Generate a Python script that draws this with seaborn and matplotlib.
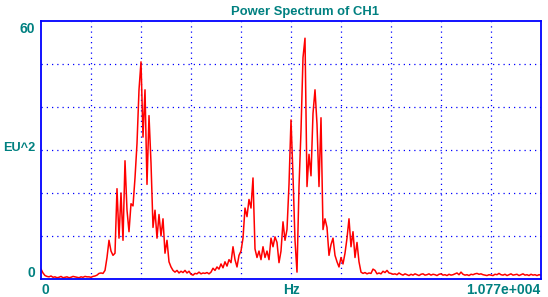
import numpy as np
import pandas as pd
import matplotlib
matplotlib.use("Agg")
import matplotlib.pyplot as plt
import seaborn as sns

# ---- data (EU^2 per frequency bin, 0 .. 10770 Hz) ----
power_low = [2.3, 1.4, 0.8,
             0.6, 0.5, 0.7, 0.4, 0.5, 0.3, 0.4, 0.6, 0.3, 0.4, 0.5, 0.3, 0.4, 0.6, 0.5, 0.4, 0.3, 0.5, 0.4, 0.6, 0.5,
             0.5, 0.4, 0.6, 0.7, 0.9, 1.3, 1.4, 1.3, 2.0, 5.0, 9.0, 6.5, 5.5, 6.0]
power_band1 = [21.0, 9.5, 20.0, 9.0, 27.5, 16.0, 11.0, 17.5, 17.0,
               23.5, 31.5, 44.0, 50.5, 33.0, 44.0, 22.0, 38.0, 27.0, 12.0, 16.0, 9.5, 15.0, 10.0, 14.0,
               6.0, 9.0, 4.0, 2.8, 2.0, 1.6, 2.0, 1.4, 1.8, 1.5, 2.0, 1.4, 1.8, 1.1, 0.9, 1.3,
               1.2, 1.6, 1.2, 1.4, 1.3, 1.5, 1.2, 1.6, 2.5, 2.0, 2.8, 2.3, 3.5, 2.6, 4.0, 3.0, 4.5, 3.8, 7.5]
power_band2 = [4.5, 2.8, 5.5, 6.5, 9.5, 16.5, 14.5, 18.5, 16.5, 23.5,
               7.0, 5.0, 6.5, 4.5, 7.5, 5.0, 6.5, 4.5, 9.5, 7.5,
               9.8, 8.5, 3.8, 6.5, 13.3, 9.0, 11.5, 22.0, 37.0, 24.0,
               9.0, 1.6, 21.5, 34.5, 51.5, 56.0, 21.5, 29.0, 24.0, 38.5,
               44.0, 36.0, 21.5, 37.5, 11.5, 14.0, 12.0, 5.5, 8.0, 9.5,
               5.5, 4.0, 2.8, 5.0, 3.5, 6.0, 9.5, 14.0, 7.5, 11.0,
               5.0, 8.5, 4.0, 1.6, 1.3, 1.5, 1.2, 1.4, 1.3, 2.3,
               2.0, 1.2, 1.4, 1.2, 1.8, 1.5, 2.0, 1.4]
power_high = [1.3, 1.1, 1.2, 1.0, 1.4, 1.1, 0.9, 1.2, 1.0, 0.8,
              1.1, 0.9, 1.2, 1.0, 0.8, 1.1, 1.2, 0.9, 1.0, 1.2,
              0.9, 1.1, 1.0, 0.8, 1.1, 1.2, 0.9, 1.0, 0.8, 1.1,
              0.9, 1.0, 1.2, 1.4, 1.0, 1.6, 1.1, 0.9, 1.0, 0.8,
              1.1, 1.0, 1.2, 1.3, 1.1, 1.2, 1.0, 0.9, 0.8, 1.0,
              0.9, 0.8, 1.1, 1.0, 1.3, 1.0, 0.9, 1.1, 0.8, 1.0,
              1.2, 0.9, 1.0, 1.1, 0.8, 1.0, 1.2, 0.9, 1.0, 0.8,
              1.1, 0.9, 1.0, 0.8, 1.0, 0.9]
f_max = 10770.0
y_max = 60
title = "Power Spectrum of CH1"
y_top_label, y_mid_label, y_bot_label = "60", "EU^2", "0"
x_left_label, x_mid_label, x_right_label = "0", "Hz", "1.077e+004"

power = power_low + power_band1 + power_band2 + power_high
freq = np.linspace(0, f_max, len(power))
df = pd.DataFrame({"Hz": freq, "EU2": power})

# ---- style ----
sns.set_style("white")
plt.rcParams["font.family"] = ["Liberation Sans", "DejaVu Sans"]
teal = "#008080"
blue = "#0000ff"

W, H = 548, 297
fig = plt.figure(figsize=(W / 100, H / 100), dpi=100)
L, R, T, B = 41, 541, 21, 279
ax = fig.add_axes([L / W, (H - B) / H, (R - L) / W, (B - T) / H])

sns.lineplot(data=df, x="Hz", y="EU2", ax=ax, color="#ff0000", linewidth=1.1,
             estimator=None, sort=False)

ax.set_xlim(0, f_max)
ax.set_ylim(0, y_max)
ax.set_xticks(np.linspace(0, f_max, 11)[1:-1])
ax.set_yticks(np.arange(10, y_max, 10))
ax.tick_params(length=0, labelbottom=False, labelleft=False)
ax.set_xlabel("")
ax.set_ylabel("")
ax.grid(True, color=blue, linestyle=(0, (1, 3.2)), linewidth=0.9)
for s in ax.spines.values():
    s.set_color(blue)
    s.set_linewidth(1.3)

fkw = dict(color=teal, fontweight="bold")
def px(x, y):
    return x / W, 1 - y / H

fig.text(*px(305, 12), title, ha="center", va="center", fontsize=9.4, **fkw)
fig.text(*px(35, 29), y_top_label, ha="right", va="center", fontsize=10, **fkw)
fig.text(*px(35, 148), y_mid_label, ha="right", va="center", fontsize=9.2, **fkw)
fig.text(*px(35, 273), y_bot_label, ha="right", va="center", fontsize=10, **fkw)
fig.text(*px(42, 290), x_left_label, ha="left", va="center", fontsize=10, **fkw)
fig.text(*px(292, 290), x_mid_label, ha="center", va="center", fontsize=10, **fkw)
fig.text(*px(540, 290), x_right_label, ha="right", va="center", fontsize=10, **fkw)

fig.savefig("out.png", dpi=100)
